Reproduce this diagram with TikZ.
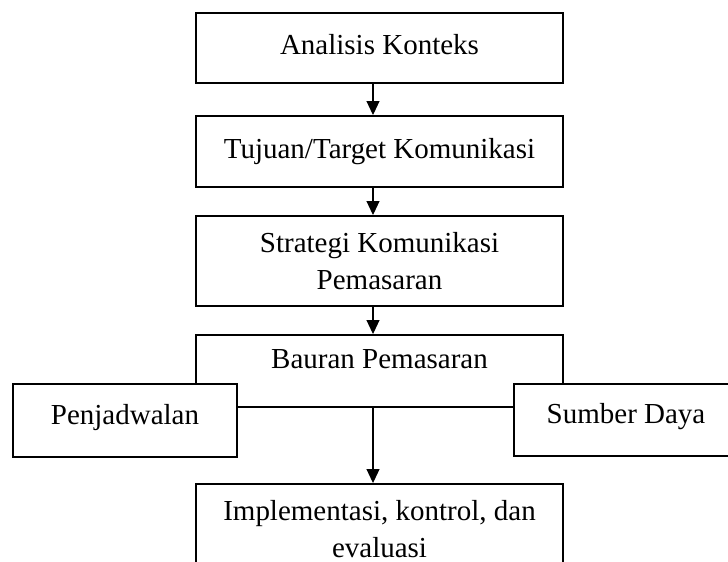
\documentclass[tikz,border=0pt]{standalone}
\usepackage{fontspec}
\setmainfont{Liberation Serif}
\usetikzlibrary{shapes}
\usetikzlibrary{arrows.meta}

\begin{document}
\begin{tikzpicture}
    \tikzstyle{box}      = [rectangle,draw,fill=white,line width=1.1pt,inner sep=0pt,
                            minimum width=7.34cm,align=center,
                            font=\fontsize{16.5}{21}\selectfont]
    \tikzstyle{one line} = [text height=0.40cm,text depth=0.13cm]
    \tikzstyle{side box} = [box,minimum width=4.48cm,minimum height=1.45cm,
                            text height=0.40cm,text depth=0.26cm]
    \tikzstyle{flow}     = [-{Triangle[length=0.28cm,width=0.26cm]},black,line width=0.6pt]

    \clip (0,0) rectangle (14.56,-11.24);

    \node[box,one line,minimum height=1.40cm] (konteks)  at (7.59,-0.96)  {Analisis Konteks};
    \node[box,one line,minimum height=1.42cm] (tujuan)   at (7.59,-3.03)  {Tujuan/Target Komunikasi};
    \node[box,minimum height=1.80cm]          (strategi) at (7.59,-5.22)  {Strategi Komunikasi\\Pemasaran};
    \node[box,minimum height=1.44cm,
          text height=0.40cm,text depth=0.50cm]  (bauran)   at (7.59,-7.42)  {Bauran Pemasaran};
    \node[side box]                           (jadwal)   at (2.50,-8.41)  {Penjadwalan};
    \node[side box]                           (sumber)   at (12.52,-8.40) {Sumber Daya};
    \node[box,minimum height=1.80cm]          (implem)   at (7.59,-10.58) {Implementasi, kontrol, dan\\evaluasi};

    \draw[flow] ([xshift=-0.13cm]konteks.south)  -- ([xshift=-0.13cm]tujuan.north);
    \draw[flow] ([xshift=-0.13cm]tujuan.south)   -- ([xshift=-0.13cm]strategi.north);
    \draw[flow] ([xshift=-0.13cm]strategi.south) -- ([xshift=-0.13cm]bauran.north);
    \draw[flow] ([xshift=-0.13cm]bauran.south)   -- ([xshift=-0.13cm]implem.north);
\end{tikzpicture}
\end{document}
